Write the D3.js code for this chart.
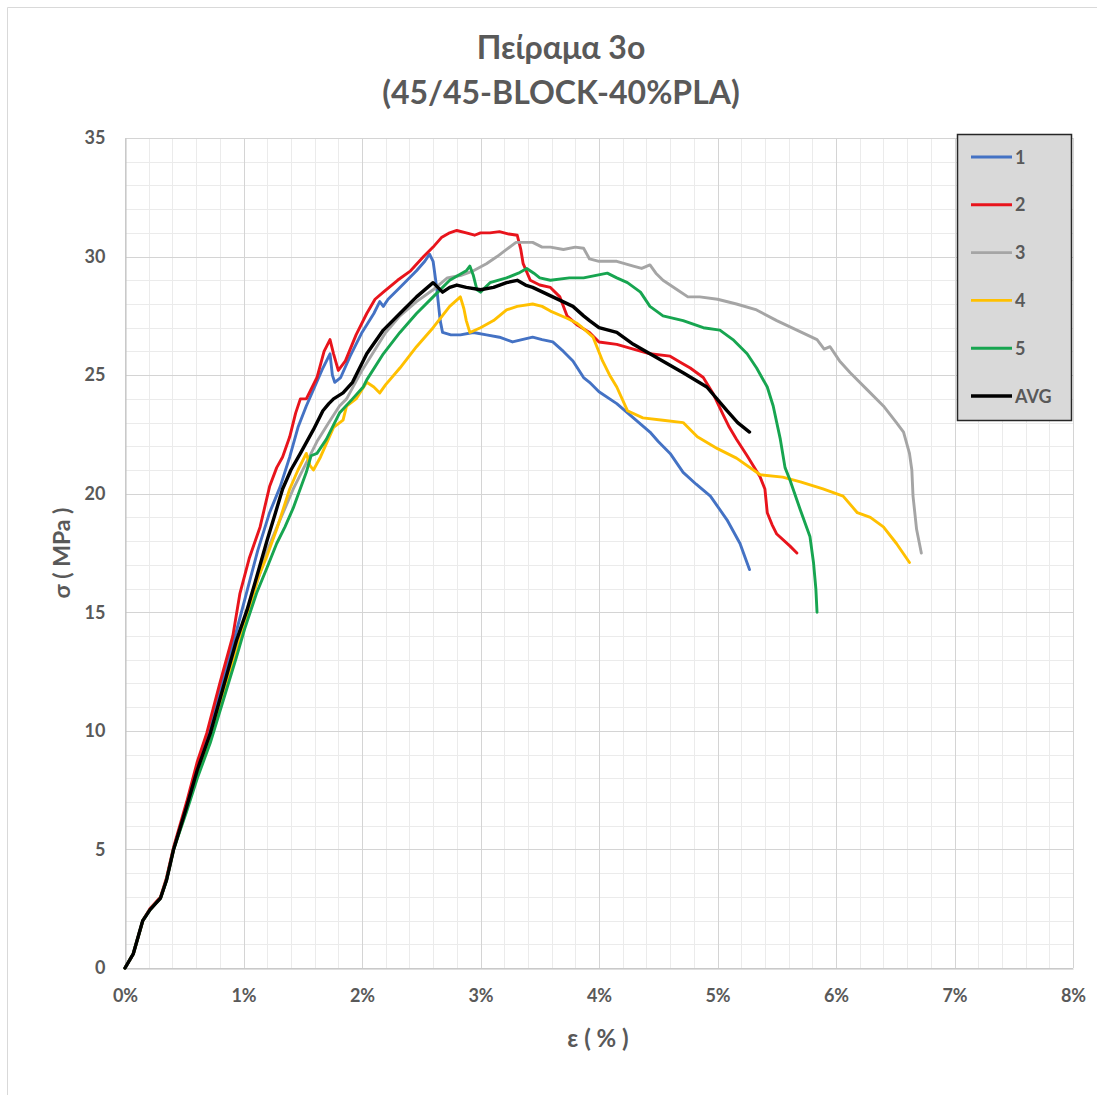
<!DOCTYPE html>
<html><head><meta charset="utf-8">
<script src="https://cdn.jsdelivr.net/npm/d3@7"></script>
<style>body{margin:0;background:#fff;} svg{display:block;}</style>
</head><body>
<script>
const titleLines = ["Πείραμα 3ο", "(45/45-BLOCK-40%PLA)"];
const xLabel = "ε ( % )";
const yLabel = "σ ( MPa )";
const xTicks = [0,1,2,3,4,5,6,7,8];
const yTicks = [0,5,10,15,20,25,30,35];
const seriesNames = ["1","2","3","4","5","AVG"];
const seriesColors = ["#4472C4","#E8141C","#A5A5A5","#FFC000","#17A550","#000000"];

// [strain %, stress MPa]
const s1 = [[0,0],[0.07,0.6],[0.15,2.0],[0.21,2.45],[0.30,2.95],[0.35,3.7],[0.41,5.0],[0.52,6.9],[0.61,8.5],[0.72,10.2],[0.83,12.2],[0.94,14.2],[1.03,15.9],[1.12,17.6],[1.22,19.2],[1.31,20.3],[1.39,21.55],[1.46,22.8],[1.53,23.7],[1.6,24.5],[1.67,25.3],[1.73,25.9],[1.75,25.0],[1.77,24.7],[1.82,24.9],[1.9,25.8],[2.0,26.8],[2.1,27.6],[2.15,28.1],[2.18,27.9],[2.22,28.2],[2.32,28.7],[2.46,29.4],[2.53,29.8],[2.57,30.1],[2.60,29.8],[2.63,28.7],[2.66,27.3],[2.68,26.8],[2.75,26.7],[2.83,26.7],[2.94,26.8],[3.05,26.7],[3.16,26.6],[3.27,26.4],[3.35,26.5],[3.44,26.6],[3.52,26.5],[3.61,26.4],[3.70,26.0],[3.78,25.6],[3.87,24.9],[3.92,24.7],[4.0,24.3],[4.15,23.8],[4.29,23.2],[4.43,22.6],[4.5,22.2],[4.6,21.7],[4.71,20.9],[4.82,20.4],[4.94,19.9],[5.08,18.9],[5.19,17.9],[5.27,16.8]];
const s2 = [[0,0],[0.07,0.6],[0.15,2.0],[0.21,2.5],[0.30,3.0],[0.35,3.8],[0.41,5.1],[0.52,7.0],[0.61,8.7],[0.69,9.9],[0.80,12.0],[0.91,14.0],[0.97,15.8],[1.05,17.3],[1.14,18.6],[1.22,20.3],[1.28,21.1],[1.33,21.55],[1.39,22.4],[1.44,23.4],[1.48,24.0],[1.53,24.0],[1.62,24.9],[1.68,26.0],[1.73,26.5],[1.76,25.9],[1.80,25.2],[1.86,25.6],[1.95,26.7],[2.04,27.6],[2.11,28.2],[2.18,28.5],[2.30,29.0],[2.41,29.4],[2.52,30.0],[2.60,30.4],[2.67,30.8],[2.74,31.0],[2.80,31.1],[2.88,31.0],[2.95,30.9],[3.0,31.0],[3.08,31.0],[3.16,31.05],[3.24,30.95],[3.31,30.9],[3.34,30.3],[3.36,29.7],[3.42,29.0],[3.50,28.8],[3.59,28.7],[3.67,28.3],[3.73,27.5],[3.82,27.1],[3.92,26.8],[4.0,26.4],[4.15,26.3],[4.29,26.1],[4.43,25.9],[4.6,25.8],[4.70,25.5],[4.77,25.3],[4.88,24.9],[4.96,24.25],[5.05,23.3],[5.1,22.8],[5.16,22.3],[5.25,21.6],[5.36,20.7],[5.40,20.2],[5.42,19.2],[5.46,18.7],[5.5,18.3],[5.61,17.8],[5.67,17.5]];
const s3 = [[0,0],[0.07,0.6],[0.15,2.0],[0.21,2.45],[0.30,2.95],[0.35,3.7],[0.41,5.0],[0.52,6.7],[0.61,8.2],[0.72,9.7],[0.83,11.6],[0.94,13.5],[1.03,15.0],[1.11,16.2],[1.2,17.6],[1.3,18.8],[1.42,20.2],[1.53,21.3],[1.62,22.2],[1.72,23.0],[1.81,23.7],[1.87,24.0],[2.0,25.2],[2.1,26.0],[2.2,26.8],[2.32,27.5],[2.46,28.1],[2.6,28.6],[2.72,29.1],[2.83,29.2],[2.94,29.4],[3.05,29.7],[3.14,30.0],[3.22,30.3],[3.3,30.6],[3.37,30.6],[3.44,30.6],[3.52,30.4],[3.59,30.4],[3.7,30.3],[3.8,30.4],[3.87,30.35],[3.92,29.9],[4.0,29.8],[4.15,29.8],[4.29,29.6],[4.36,29.5],[4.43,29.65],[4.48,29.3],[4.54,29.0],[4.66,28.6],[4.75,28.3],[4.85,28.3],[5.0,28.2],[5.16,28.0],[5.33,27.75],[5.5,27.3],[5.67,26.9],[5.84,26.5],[5.9,26.1],[5.95,26.2],[6.03,25.6],[6.12,25.1],[6.26,24.4],[6.4,23.7],[6.51,23.0],[6.57,22.6],[6.62,21.7],[6.64,21.0],[6.65,19.9],[6.68,18.5],[6.72,17.5]];
const s4 = [[0,0],[0.07,0.6],[0.15,2.0],[0.21,2.45],[0.30,2.95],[0.35,3.7],[0.41,5.0],[0.52,6.7],[0.61,8.2],[0.72,9.7],[0.83,11.5],[0.94,13.3],[1.03,14.8],[1.12,16.4],[1.2,17.4],[1.28,18.5],[1.39,20.2],[1.46,21.0],[1.53,21.7],[1.56,21.2],[1.59,21.0],[1.65,21.55],[1.76,22.8],[1.84,23.1],[1.87,23.7],[1.95,24.0],[2.04,24.7],[2.1,24.5],[2.15,24.25],[2.2,24.6],[2.32,25.3],[2.46,26.2],[2.6,27.0],[2.74,27.9],[2.83,28.3],[2.86,27.8],[2.88,27.3],[2.91,26.8],[3.0,27.0],[3.11,27.3],[3.22,27.75],[3.31,27.9],[3.44,28.0],[3.52,27.9],[3.59,27.7],[3.73,27.4],[3.81,27.2],[3.86,27.0],[3.95,26.6],[4.03,25.6],[4.09,25.0],[4.15,24.5],[4.24,23.5],[4.37,23.2],[4.54,23.1],[4.71,23.0],[4.83,22.4],[5.0,21.9],[5.16,21.5],[5.36,20.8],[5.55,20.7],[5.7,20.5],[5.89,20.2],[6.06,19.9],[6.18,19.2],[6.29,19.0],[6.4,18.6],[6.51,17.9],[6.62,17.1]];
const s5 = [[0,0],[0.07,0.6],[0.15,2.0],[0.21,2.45],[0.30,2.95],[0.35,3.7],[0.41,5.0],[0.52,6.6],[0.61,8.0],[0.72,9.5],[0.83,11.3],[0.94,13.1],[1.01,14.3],[1.11,15.8],[1.2,16.9],[1.28,17.9],[1.35,18.6],[1.42,19.4],[1.53,20.9],[1.57,21.6],[1.62,21.7],[1.70,22.3],[1.81,23.4],[1.92,24.0],[2.01,24.5],[2.04,24.8],[2.18,25.9],[2.32,26.8],[2.46,27.6],[2.6,28.3],[2.74,29.0],[2.88,29.4],[2.91,29.6],[2.94,29.2],[2.97,28.6],[3.0,28.5],[3.08,28.9],[3.22,29.1],[3.32,29.3],[3.39,29.5],[3.45,29.3],[3.5,29.1],[3.59,29.0],[3.75,29.1],[3.87,29.1],[4.07,29.3],[4.15,29.1],[4.24,28.9],[4.35,28.5],[4.43,27.9],[4.54,27.5],[4.71,27.3],[4.88,27.0],[5.02,26.9],[5.13,26.5],[5.25,25.9],[5.33,25.3],[5.42,24.5],[5.47,23.7],[5.53,22.3],[5.57,21.1],[5.61,20.6],[5.7,19.3],[5.78,18.2],[5.81,17.1],[5.83,16.0],[5.84,15.0]];
const sAvg = [[0,0],[0.07,0.6],[0.15,2.0],[0.21,2.45],[0.30,2.95],[0.35,3.7],[0.41,5.0],[0.52,6.8],[0.61,8.35],[0.72,9.9],[0.83,11.85],[0.94,13.8],[1.03,15.1],[1.1,16.3],[1.2,18.05],[1.27,19.2],[1.33,20.2],[1.4,21.0],[1.48,21.7],[1.59,22.7],[1.67,23.5],[1.72,23.8],[1.76,24.0],[1.84,24.25],[1.92,24.7],[2.04,25.9],[2.18,26.9],[2.32,27.6],[2.46,28.3],[2.6,28.9],[2.64,28.7],[2.68,28.5],[2.74,28.7],[2.8,28.8],[2.88,28.7],[3.0,28.6],[3.11,28.7],[3.22,28.9],[3.31,29.0],[3.38,28.8],[3.44,28.7],[3.61,28.3],[3.78,27.9],[3.87,27.5],[3.92,27.3],[4.0,27.0],[4.15,26.8],[4.29,26.3],[4.43,25.9],[4.57,25.5],[4.71,25.1],[4.91,24.5],[5.08,23.5],[5.17,23.0],[5.27,22.6]];
const allSeries = [s1,s2,s3,s4,s5,sAvg];

const W = 1097, H = 1095;
const m = {left:125, right:1073, top:138, bottom:968};
const font = "Lato, 'Open Sans', sans-serif";
const txtCol = "#595959";

const svg = d3.select("body").append("svg").attr("width",W).attr("height",H);
svg.append("rect").attr("width",W).attr("height",H).attr("fill","#fff");
// faint outer chart frame
svg.append("path").attr("d",`M7.5,${H} V7.5 H${W}`).attr("fill","none").attr("stroke","#d9d9d9");

const x = d3.scaleLinear().domain([0,8]).range([m.left,m.right]);
const y = d3.scaleLinear().domain([0,35]).range([m.bottom,m.top]);

// minor grid
const xMinor = d3.range(0,8.0001,0.2), yMinor = d3.range(0,35.0001,1);
const g = svg.append("g");
g.selectAll("line.xm").data(xMinor).join("line")
  .attr("x1",d=>Math.round(x(d))+0.5).attr("x2",d=>Math.round(x(d))+0.5)
  .attr("y1",m.top).attr("y2",m.bottom).attr("stroke","#ebebeb");
g.selectAll("line.ym").data(yMinor).join("line")
  .attr("y1",d=>Math.round(y(d))+0.5).attr("y2",d=>Math.round(y(d))+0.5)
  .attr("x1",m.left).attr("x2",m.right).attr("stroke","#ebebeb");
// major grid
g.selectAll("line.xM").data(xTicks).join("line")
  .attr("x1",d=>Math.round(x(d))+0.5).attr("x2",d=>Math.round(x(d))+0.5)
  .attr("y1",m.top).attr("y2",m.bottom).attr("stroke","#d4d4d4");
g.selectAll("line.yM").data(yTicks).join("line")
  .attr("y1",d=>Math.round(y(d))+0.5).attr("y2",d=>Math.round(y(d))+0.5)
  .attr("x1",m.left).attr("x2",m.right).attr("stroke","#d4d4d4");

// axes
const xAxis = d3.axisBottom(x).tickValues(xTicks).tickFormat(d=>d+"%").tickSize(0).tickPadding(21);
const yAxis = d3.axisLeft(y).tickValues(yTicks).tickFormat(d3.format("d")).tickSize(0).tickPadding(20);
const gx = svg.append("g").attr("transform",`translate(0,${m.bottom+0.5})`).call(xAxis);
const gy = svg.append("g").attr("transform",`translate(${m.left+0.5},0)`).call(yAxis);
[gx,gy].forEach(a=>{
  a.select(".domain").attr("stroke","#bfbfbf");
  a.selectAll("text").attr("fill",txtCol).attr("font-family",font).attr("font-weight","bold").attr("font-size",18);
});

// lines
const line = d3.line().x(d=>x(d[0])).y(d=>y(d[1]));
svg.append("g").selectAll("path").data(allSeries).join("path")
  .attr("d",line).attr("fill","none")
  .attr("stroke",(d,i)=>seriesColors[i]).attr("stroke-width",(d,i)=>i===5?3.4:2.9)
  .attr("stroke-linejoin","round").attr("stroke-linecap","round");

// titles
const t = svg.append("text").attr("text-anchor","middle").attr("fill",txtCol)
  .attr("font-family",font).attr("font-weight","bold").attr("font-size",32);
t.selectAll("tspan").data(titleLines).join("tspan")
  .attr("x",561).attr("y",(d,i)=>59+i*45).text(d=>d);

svg.append("text").attr("x",598).attr("y",1047).attr("text-anchor","middle").attr("xml:space","preserve")
  .attr("fill",txtCol).attr("font-family",font).attr("font-weight","bold").attr("font-size",24).text(xLabel);
svg.append("text").attr("transform","translate(70,553) rotate(-90)").attr("text-anchor","middle")
  .attr("fill",txtCol).attr("font-family",font).attr("font-weight","bold").attr("font-size",23).text(yLabel);

// legend
const lg = svg.append("g");
lg.append("rect").attr("x",957.5).attr("y",134.5).attr("width",114).attr("height",286)
  .attr("fill","#d9d9d9").attr("stroke","#262626").attr("stroke-width",1.5);
const items = lg.selectAll("g.it").data(seriesNames).join("g")
  .attr("transform",(d,i)=>`translate(0,${157+i*47.8})`);
items.append("line").attr("x1",971).attr("x2",1012).attr("y1",0).attr("y2",0)
  .attr("stroke",(d,i)=>seriesColors[i]).attr("stroke-width",(d,i)=>i===5?3.4:2.9);
items.append("text").attr("x",1015).attr("y",6.5).text(d=>d)
  .attr("fill",txtCol).attr("font-family",font).attr("font-weight","bold").attr("font-size",18);
</script>
</body></html>
